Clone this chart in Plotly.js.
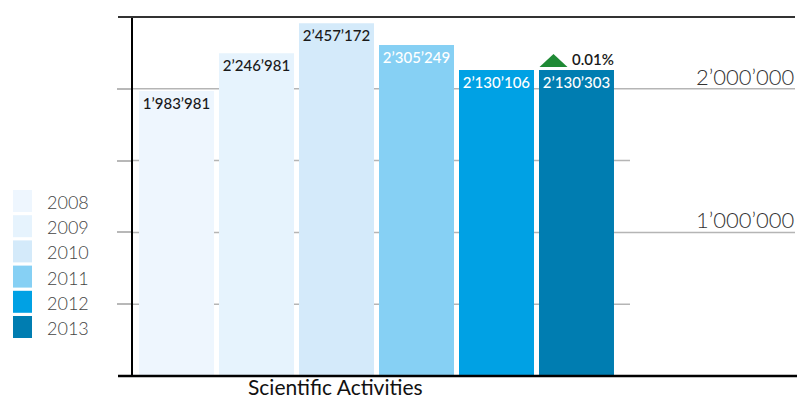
<!DOCTYPE html>
<html>
<head>
<meta charset="utf-8">
<script src="https://cdn.plot.ly/plotly-3.0.1.min.js"></script>
<style>html,body{margin:0;padding:0;background:#fff;}#chart{width:798px;height:400px;}</style>
</head>
<body>
<div id="chart"></div>
<script>
// ---- data ----
const categories = ['2008', '2009', '2010', '2011', '2012', '2013'];
const values = [1983981, 2246981, 2457172, 2305249, 2130106, 2130303];
const barColors = ['#eef6fe', '#e6f3fd', '#d4eafa', '#86d0f4', '#00a1e4', '#007db1'];
const labelColors = ['#1a1a1a', '#1a1a1a', '#1a1a1a', '#ffffff', '#ffffff', '#ffffff'];
const tickValues = [500000, 1000000, 1500000, 2000000];
const labeledTicks = [1000000, 2000000];
const groupLabel = 'Scientific Activities';

// ---- helpers ----
function fmt(n) { return String(n).replace(/\B(?=(\d{3})+(?!\d))/g, '\u2019'); }
const L = 133, W = 665, T = 17, H = 359;
const px = x => (x - L) / W;          // pixel -> paper x
const py = y => (T + H - y) / H;      // pixel -> paper y
const FONT = 'Lato, "Open Sans", sans-serif';

const change = ((values[5] - values[4]) / values[4] * 100).toFixed(2) + '%';

const trace = {
  type: 'bar',
  x: categories,
  y: values,
  width: 0.9375,
  marker: { color: barColors, line: { width: 0 } },
  text: values.map(fmt),
  textposition: 'inside',
  insidetextanchor: 'end',
  textangle: 0,
  constraintext: 'none',
  textfont: { family: FONT, size: 15, color: labelColors, weight: 500 },
  hoverinfo: 'none'
};

const shapes = [];
tickValues.forEach(t => {
  shapes.push({
    type: 'line', xref: 'paper', yref: 'y', layer: 'below',
    x0: 0, x1: labeledTicks.includes(t) ? px(795) : px(630), y0: t, y1: t,
    line: { color: '#b5b5b5', width: 1.5 }
  });
});
shapes.push({ type: 'line', xref: 'paper', yref: 'paper', x0: px(118), x1: px(795), y0: 1, y1: 1,
  line: { color: '#333333', width: 2 } });
shapes.push({ type: 'line', xref: 'paper', yref: 'paper', x0: px(118), x1: px(797), y0: 0, y1: 0,
  line: { color: '#000000', width: 2.5 } });
// up triangle above last bar
shapes.push({ type: 'path', xref: 'x', yref: 'y', xsizemode: 'pixel', ysizemode: 'pixel',
  xanchor: categories.length - 1, yanchor: values[values.length - 1],
  path: 'M-37,3 L-9,3 L-23,16 Z', fillcolor: '#1f8a35', line: { width: 0 } });

const annotations = [];
annotations.push({ xref: 'x', yref: 'y', x: categories.length - 1, y: values[values.length - 1],
  xanchor: 'left', yanchor: 'bottom', xshift: -6, yshift: 0, showarrow: false, text: change,
  font: { family: FONT, size: 15, color: '#1a1a1a', weight: 600 } });
labeledTicks.forEach(t => {
  annotations.push({ xref: 'paper', yref: 'y', x: px(796), y: t, xanchor: 'right', yanchor: 'bottom',
    align: 'right', yshift: -3, showarrow: false, text: fmt(t),
    font: { family: FONT, size: 22, color: '#333333', weight: 300 } });
});
annotations.push({ xref: 'paper', yref: 'paper', x: px(335), y: py(400), xanchor: 'center', yanchor: 'bottom',
  showarrow: false, borderpad: 0, text: groupLabel, font: { family: FONT, size: 21, color: '#111111' } });

// manual legend
categories.forEach((c, i) => {
  const top = 190 + i * 25.2;
  shapes.push({ type: 'rect', xref: 'paper', yref: 'paper', x0: px(13), x1: px(32),
    y0: py(top), y1: py(top + 22), fillcolor: barColors[i], line: { width: 0 } });
  annotations.push({ xref: 'paper', yref: 'paper', x: px(45), y: py(top + 12), xanchor: 'left', yanchor: 'middle',
    align: 'left', showarrow: false, text: c, font: { family: FONT, size: 18, color: '#444444', weight: 300 } });
});

const layout = {
  width: 798, height: 400,
  margin: { l: L, r: 798 - L - W, t: T, b: 400 - T - H, pad: 0 },
  paper_bgcolor: '#ffffff', plot_bgcolor: '#ffffff',
  showlegend: false,
  xaxis: { type: 'category', range: [-0.544, 7.769], showticklabels: false, showgrid: false,
    zeroline: false, showline: false, ticks: '', fixedrange: true },
  yaxis: { range: [0, 2500000], showgrid: false, zeroline: false, showline: true,
    linecolor: '#000000', linewidth: 2, ticks: 'outside', ticklen: 14, tickwidth: 2,
    tickcolor: '#b8b8b8', tickvals: tickValues, showticklabels: false, fixedrange: true },
  shapes: shapes,
  annotations: annotations
};

Plotly.newPlot('chart', [trace], layout, { displayModeBar: false, staticPlot: true });
</script>
</body>
</html>
